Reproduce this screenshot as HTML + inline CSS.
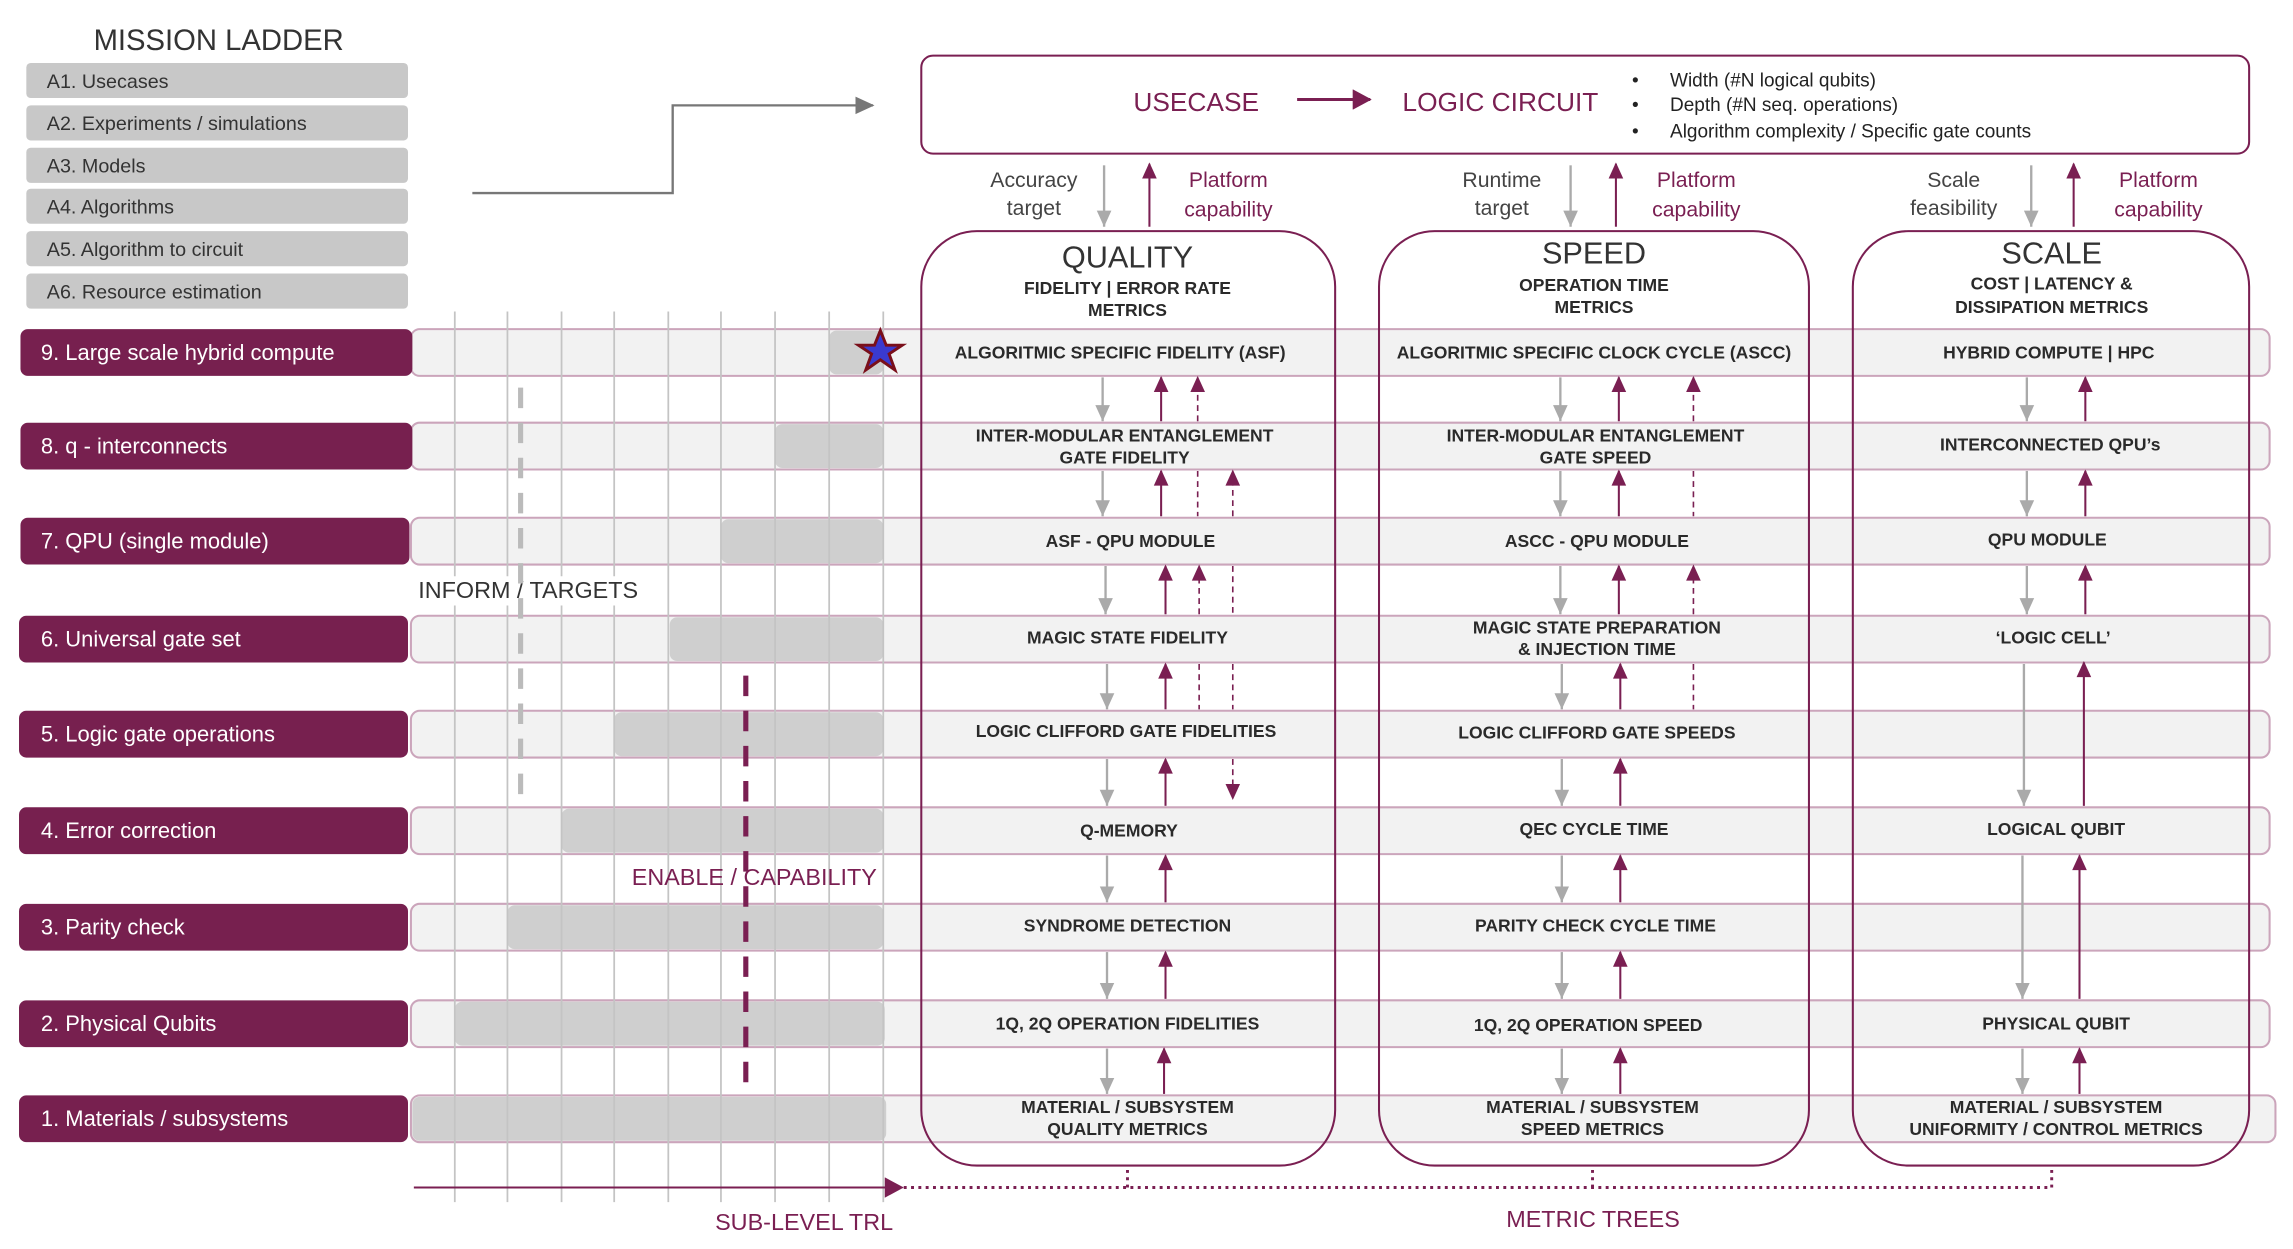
<!DOCTYPE html>
<html><head><meta charset="utf-8"><style>
html,body{margin:0;padding:0;background:#fff}
svg{display:block}
text{font-family:"Liberation Sans",sans-serif}
.rl{fill:#fff;font-size:15px}
.ml{fill:#333;font-size:13.5px}
.bt{fill:#2a2a2a;font-size:12px;font-weight:bold;text-anchor:middle}
.ct{fill:#333;font-size:21px;text-anchor:middle}
.cs{fill:#2a2a2a;font-size:12px;font-weight:bold;text-anchor:middle}
.lab{fill:#444;font-size:14.5px;text-anchor:middle}
.plab{fill:#7a1f52;font-size:14.5px;text-anchor:middle}
.g{stroke:#aaa;stroke-width:1.6;fill:none}
.p{stroke:#7a1f52;stroke-width:1.4;fill:none}
.pd{stroke:#7a1f52;stroke-width:1.1;fill:none;stroke-dasharray:4 3}
</style></head><body>
<svg width="2293" height="1249" viewBox="0 0 1568 854" xmlns="http://www.w3.org/2000/svg">
<defs>
<marker id="ga" markerWidth="12" markerHeight="12" refX="6" refY="11" orient="auto-start-reverse" markerUnits="userSpaceOnUse" viewBox="0 0 12 12"><path d="M1,0 L11,0 L6,11 Z" fill="#aaa" transform="rotate(0)"/></marker>
<marker id="pa" markerWidth="12" markerHeight="12" refX="6" refY="1" orient="0" markerUnits="userSpaceOnUse" viewBox="0 0 12 12"><path d="M6,0 L11,11 L1,11 Z" fill="#7a1f52"/></marker>
<marker id="gd" markerWidth="12" markerHeight="12" refX="6" refY="11" orient="0" markerUnits="userSpaceOnUse" viewBox="0 0 12 12"><path d="M1,0 L11,0 L6,11 Z" fill="#aaa"/></marker>
<marker id="pdn" markerWidth="12" markerHeight="12" refX="6" refY="11" orient="0" markerUnits="userSpaceOnUse" viewBox="0 0 12 12"><path d="M1,0 L11,0 L6,11 Z" fill="#7a1f52"/></marker>
<marker id="gr" markerWidth="14" markerHeight="14" refX="12" refY="7" orient="0" markerUnits="userSpaceOnUse" viewBox="0 0 14 14"><path d="M0,1 L13,7 L0,13 Z" fill="#777"/></marker>
<marker id="pr" markerWidth="14" markerHeight="14" refX="12" refY="7" orient="0" markerUnits="userSpaceOnUse" viewBox="0 0 14 14"><path d="M0,0 L13,7 L0,14 Z" fill="#7a1f52"/></marker>
</defs>

<!-- Mission ladder -->
<text x="64" y="34" style="fill:#333;font-size:20px">MISSION LADDER</text>
<g fill="#c8c8c8">
<rect x="18" y="43" width="261" height="24" rx="3"/>
<rect x="18" y="72" width="261" height="24" rx="3"/>
<rect x="18" y="101" width="261" height="24" rx="3"/>
<rect x="18" y="129" width="261" height="24" rx="3"/>
<rect x="18" y="158" width="261" height="24" rx="3"/>
<rect x="18" y="187" width="261" height="24" rx="3"/>
</g>
<text class="ml" x="32" y="60">A1. Usecases</text>
<text class="ml" x="32" y="89">A2. Experiments / simulations</text>
<text class="ml" x="32" y="118">A3. Models</text>
<text class="ml" x="32" y="146">A4. Algorithms</text>
<text class="ml" x="32" y="175">A5. Algorithm to circuit</text>
<text class="ml" x="32" y="204">A6. Resource estimation</text>
<polyline points="323,132 460,132 460,72 597,72" fill="none" stroke="#777" stroke-width="1.6" marker-end="url(#gr)"/>

<!-- Top box -->
<rect x="630" y="38" width="908" height="67" rx="8" fill="none" stroke="#7a1f52" stroke-width="1.4"/>
<text x="818" y="76" style="fill:#7a1f52;font-size:18px" text-anchor="middle">USECASE</text>
<line x1="887" y1="68" x2="937" y2="68" stroke="#7a1f52" stroke-width="2" marker-end="url(#pr)"/>
<text x="1026" y="76" style="fill:#7a1f52;font-size:18px" text-anchor="middle">LOGIC CIRCUIT</text>
<g style="fill:#222;font-size:13px">
<text x="1116" y="59">•</text><text x="1142" y="59">Width (#N logical qubits)</text>
<text x="1116" y="76">•</text><text x="1142" y="76">Depth (#N seq. operations)</text>
<text x="1116" y="94">•</text><text x="1142" y="94">Algorithm complexity / Specific gate counts</text>
</g>

<!-- targets/capabilities -->
<text class="lab" x="707" y="128">Accuracy</text><text class="lab" x="707" y="147">target</text>
<line class="g" x1="755" y1="113" x2="755" y2="155" marker-end="url(#gd)"/>
<line class="p" x1="786" y1="155" x2="786" y2="112" marker-end="url(#pa)"/>
<text class="plab" x="840" y="128">Platform</text><text class="plab" x="840" y="148">capability</text>
<text class="lab" x="1027" y="128">Runtime</text><text class="lab" x="1027" y="147">target</text>
<line class="g" x1="1074" y1="113" x2="1074" y2="155" marker-end="url(#gd)"/>
<line class="p" x1="1105" y1="155" x2="1105" y2="112" marker-end="url(#pa)"/>
<text class="plab" x="1160" y="128">Platform</text><text class="plab" x="1160" y="148">capability</text>
<text class="lab" x="1336" y="128">Scale</text><text class="lab" x="1336" y="147">feasibility</text>
<line class="g" x1="1389" y1="113" x2="1389" y2="155" marker-end="url(#gd)"/>
<line class="p" x1="1418" y1="155" x2="1418" y2="112" marker-end="url(#pa)"/>
<text class="plab" x="1476" y="128">Platform</text><text class="plab" x="1476" y="148">capability</text>

<!-- bands -->
<g fill="#f2f2f2" stroke="#cba5bb" stroke-width="1.4">
<rect x="281" y="225" width="1271" height="32" rx="6"/>
<rect x="281" y="289" width="1271" height="32" rx="6"/>
<rect x="281" y="354" width="1271" height="32" rx="6"/>
<rect x="281" y="421" width="1271" height="32" rx="6"/>
<rect x="281" y="486" width="1271" height="32" rx="6"/>
<rect x="281" y="552" width="1271" height="32" rx="6"/>
<rect x="281" y="618" width="1271" height="32" rx="6"/>
<rect x="281" y="684" width="1271" height="32" rx="6"/>
<rect x="281" y="749" width="1275" height="32" rx="6"/>
</g>
<g fill="#cfcfcf">
<rect x="567" y="226" width="37" height="30" rx="5"/>
<rect x="530" y="290" width="74" height="30" rx="5"/>
<rect x="493" y="355" width="111" height="30" rx="5"/>
<rect x="458" y="422" width="146" height="30" rx="5"/>
<rect x="420" y="487" width="184" height="30" rx="5"/>
<rect x="384" y="553" width="220" height="30" rx="5"/>
<rect x="347" y="619" width="257" height="30" rx="5"/>
<rect x="311" y="685" width="294" height="30" rx="5"/>
<rect x="282" y="750" width="324" height="30" rx="5"/>
</g>
<g stroke="#c4c4c4" stroke-width="1.2">
<line x1="311" y1="213" x2="311" y2="822"/><line x1="347" y1="213" x2="347" y2="822"/>
<line x1="384" y1="213" x2="384" y2="822"/><line x1="420" y1="213" x2="420" y2="822"/>
<line x1="457" y1="213" x2="457" y2="822"/><line x1="493" y1="213" x2="493" y2="822"/>
<line x1="530" y1="213" x2="530" y2="822"/><line x1="567" y1="213" x2="567" y2="822"/>
<line x1="604" y1="213" x2="604" y2="822"/>
</g>
<rect x="284" y="394" width="152" height="20" fill="#fff"/>
<text x="286" y="409" style="fill:#333;font-size:16px">INFORM / TARGETS</text>
<line x1="356" y1="265" x2="356" y2="547" stroke="#bbb" stroke-width="3.5" stroke-dasharray="14 10"/>
<line x1="510" y1="462" x2="510" y2="744" stroke="#7a1f52" stroke-width="3.5" stroke-dasharray="14 10"/>
<rect x="430" y="590" width="170" height="20" fill="#fff" opacity="0"/>
<text x="432" y="605" style="fill:#7a1f52;font-size:16px">ENABLE / CAPABILITY</text>
<polygon points="602,226 606,236 617,236 608,242 612,253 602,246 592,253 596,242 587,236 598,236" fill="#3a3ad0" stroke="#7a0f1a" stroke-width="2"/>

<!-- purple row labels -->
<g fill="#77204f">
<rect x="14" y="225" width="268" height="32" rx="5"/>
<rect x="14" y="289" width="268" height="32" rx="5"/>
<rect x="14" y="354" width="266" height="32" rx="5"/>
<rect x="13" y="421" width="266" height="32" rx="5"/>
<rect x="13" y="486" width="266" height="32" rx="5"/>
<rect x="13" y="552" width="266" height="32" rx="5"/>
<rect x="13" y="618" width="266" height="32" rx="5"/>
<rect x="13" y="684" width="266" height="32" rx="5"/>
<rect x="13" y="749" width="266" height="32" rx="5"/>
</g>
<text class="rl" x="28" y="246">9. Large scale hybrid compute</text>
<text class="rl" x="28" y="310">8. q - interconnects</text>
<text class="rl" x="28" y="375">7.  QPU (single module)</text>
<text class="rl" x="28" y="442">6.  Universal gate set</text>
<text class="rl" x="28" y="507">5.  Logic gate operations</text>
<text class="rl" x="28" y="573">4.  Error correction</text>
<text class="rl" x="28" y="639">3.  Parity check</text>
<text class="rl" x="28" y="705">2.  Physical Qubits</text>
<text class="rl" x="28" y="770">1.  Materials / subsystems</text>

<!-- columns -->
<g fill="none" stroke="#7a1f52" stroke-width="1.4">
<rect x="630" y="158" width="283" height="639" rx="38"/>
<rect x="943" y="158" width="294" height="639" rx="38"/>
<rect x="1267" y="158" width="271" height="639" rx="38"/>
</g>
<text class="ct" x="771" y="183">QUALITY</text>
<text class="cs" x="771" y="201">FIDELITY | ERROR RATE</text><text class="cs" x="771" y="216">METRICS</text>
<text class="ct" x="1090" y="180">SPEED</text>
<text class="cs" x="1090" y="199">OPERATION TIME</text><text class="cs" x="1090" y="214">METRICS</text>
<text class="ct" x="1403" y="180">SCALE</text>
<text class="cs" x="1403" y="198">COST | LATENCY &amp;</text><text class="cs" x="1403" y="214">DISSIPATION METRICS</text>

<!-- box texts -->
<text class="bt" x="766" y="245">ALGORITMIC SPECIFIC FIDELITY (ASF)</text>
<text class="bt" x="1090" y="245">ALGORITMIC SPECIFIC CLOCK CYCLE (ASCC)</text>
<text class="bt" x="1401" y="245">HYBRID COMPUTE | HPC</text>
<text class="bt" x="769" y="302">INTER-MODULAR ENTANGLEMENT</text><text class="bt" x="769" y="317">GATE FIDELITY</text>
<text class="bt" x="1091" y="302">INTER-MODULAR ENTANGLEMENT</text><text class="bt" x="1091" y="317">GATE SPEED</text>
<text class="bt" x="1402" y="308">INTERCONNECTED QPU’s</text>
<text class="bt" x="773" y="374">ASF - QPU MODULE</text>
<text class="bt" x="1092" y="374">ASCC - QPU MODULE</text>
<text class="bt" x="1400" y="373">QPU MODULE</text>
<text class="bt" x="771" y="440">MAGIC STATE FIDELITY</text>
<text class="bt" x="1092" y="433">MAGIC STATE PREPARATION</text><text class="bt" x="1092" y="448">&amp; INJECTION TIME</text>
<text class="bt" x="1404" y="440">‘LOGIC CELL’</text>
<text class="bt" x="770" y="504">LOGIC CLIFFORD GATE FIDELITIES</text>
<text class="bt" x="1092" y="505">LOGIC CLIFFORD GATE SPEEDS</text>
<text class="bt" x="772" y="572">Q-MEMORY</text>
<text class="bt" x="1090" y="571">QEC CYCLE TIME</text>
<text class="bt" x="1406" y="571">LOGICAL QUBIT</text>
<text class="bt" x="771" y="637">SYNDROME DETECTION</text>
<text class="bt" x="1091" y="637">PARITY CHECK CYCLE TIME</text>
<text class="bt" x="771" y="704">1Q, 2Q OPERATION FIDELITIES</text>
<text class="bt" x="1086" y="705">1Q, 2Q OPERATION SPEED</text>
<text class="bt" x="1406" y="704">PHYSICAL QUBIT</text>
<text class="bt" x="771" y="761">MATERIAL / SUBSYSTEM</text><text class="bt" x="771" y="776">QUALITY METRICS</text>
<text class="bt" x="1089" y="761">MATERIAL / SUBSYSTEM</text><text class="bt" x="1089" y="776">SPEED METRICS</text>
<text class="bt" x="1406" y="761">MATERIAL / SUBSYSTEM</text><text class="bt" x="1406" y="776">UNIFORMITY / CONTROL METRICS</text>

<!-- quality arrows -->
<g>
<line class="g" x1="754" y1="258" x2="754" y2="288" marker-end="url(#gd)"/>
<line class="p" x1="794" y1="288" x2="794" y2="258" marker-end="url(#pa)"/>
<line class="pd" x1="819" y1="288" x2="819" y2="258" marker-end="url(#pa)"/>
<line class="g" x1="754" y1="322" x2="754" y2="353" marker-end="url(#gd)"/>
<line class="p" x1="794" y1="353" x2="794" y2="322" marker-end="url(#pa)"/>
<line class="pd" x1="819" y1="322" x2="819" y2="353"/>
<line class="pd" x1="843" y1="353" x2="843" y2="322" marker-end="url(#pa)"/>
<line class="g" x1="756" y1="387" x2="756" y2="420" marker-end="url(#gd)"/>
<line class="p" x1="797" y1="420" x2="797" y2="387" marker-end="url(#pa)"/>
<line class="pd" x1="820" y1="420" x2="820" y2="387" marker-end="url(#pa)"/>
<line class="pd" x1="843" y1="387" x2="843" y2="420"/>
<line class="g" x1="757" y1="454" x2="757" y2="485" marker-end="url(#gd)"/>
<line class="p" x1="797" y1="485" x2="797" y2="454" marker-end="url(#pa)"/>
<line class="pd" x1="820" y1="454" x2="820" y2="485"/>
<line class="pd" x1="843" y1="454" x2="843" y2="485"/>
<line class="g" x1="757" y1="519" x2="757" y2="551" marker-end="url(#gd)"/>
<line class="p" x1="797" y1="551" x2="797" y2="519" marker-end="url(#pa)"/>
<line class="pd" x1="843" y1="519" x2="843" y2="547" marker-end="url(#pdn)"/>
<line class="g" x1="757" y1="585" x2="757" y2="617" marker-end="url(#gd)"/>
<line class="p" x1="797" y1="617" x2="797" y2="585" marker-end="url(#pa)"/>
<line class="g" x1="757" y1="651" x2="757" y2="683" marker-end="url(#gd)"/>
<line class="p" x1="797" y1="683" x2="797" y2="651" marker-end="url(#pa)"/>
<line class="g" x1="757" y1="717" x2="757" y2="748" marker-end="url(#gd)"/>
<line class="p" x1="796" y1="748" x2="796" y2="717" marker-end="url(#pa)"/>
</g>
<!-- speed arrows -->
<g>
<line class="g" x1="1067" y1="258" x2="1067" y2="288" marker-end="url(#gd)"/>
<line class="p" x1="1107" y1="288" x2="1107" y2="258" marker-end="url(#pa)"/>
<line class="pd" x1="1158" y1="288" x2="1158" y2="258" marker-end="url(#pa)"/>
<line class="g" x1="1067" y1="322" x2="1067" y2="353" marker-end="url(#gd)"/>
<line class="p" x1="1107" y1="353" x2="1107" y2="322" marker-end="url(#pa)"/>
<line class="pd" x1="1158" y1="322" x2="1158" y2="353"/>
<line class="g" x1="1067" y1="387" x2="1067" y2="420" marker-end="url(#gd)"/>
<line class="p" x1="1107" y1="420" x2="1107" y2="387" marker-end="url(#pa)"/>
<line class="pd" x1="1158" y1="420" x2="1158" y2="387" marker-end="url(#pa)"/>
<line class="g" x1="1068" y1="454" x2="1068" y2="485" marker-end="url(#gd)"/>
<line class="p" x1="1108" y1="485" x2="1108" y2="454" marker-end="url(#pa)"/>
<line class="pd" x1="1158" y1="454" x2="1158" y2="485"/>
<line class="g" x1="1068" y1="519" x2="1068" y2="551" marker-end="url(#gd)"/>
<line class="p" x1="1108" y1="551" x2="1108" y2="519" marker-end="url(#pa)"/>
<line class="g" x1="1068" y1="585" x2="1068" y2="617" marker-end="url(#gd)"/>
<line class="p" x1="1108" y1="617" x2="1108" y2="585" marker-end="url(#pa)"/>
<line class="g" x1="1068" y1="651" x2="1068" y2="683" marker-end="url(#gd)"/>
<line class="p" x1="1108" y1="683" x2="1108" y2="651" marker-end="url(#pa)"/>
<line class="g" x1="1068" y1="717" x2="1068" y2="748" marker-end="url(#gd)"/>
<line class="p" x1="1108" y1="748" x2="1108" y2="717" marker-end="url(#pa)"/>
</g>
<!-- scale arrows -->
<g>
<line class="g" x1="1386" y1="258" x2="1386" y2="288" marker-end="url(#gd)"/>
<line class="p" x1="1426" y1="288" x2="1426" y2="258" marker-end="url(#pa)"/>
<line class="g" x1="1386" y1="322" x2="1386" y2="353" marker-end="url(#gd)"/>
<line class="p" x1="1426" y1="353" x2="1426" y2="322" marker-end="url(#pa)"/>
<line class="g" x1="1386" y1="387" x2="1386" y2="420" marker-end="url(#gd)"/>
<line class="p" x1="1426" y1="420" x2="1426" y2="387" marker-end="url(#pa)"/>
<line class="g" x1="1384" y1="454" x2="1384" y2="551" marker-end="url(#gd)"/>
<line class="p" x1="1425" y1="551" x2="1425" y2="453" marker-end="url(#pa)"/>
<line class="g" x1="1383" y1="585" x2="1383" y2="683" marker-end="url(#gd)"/>
<line class="p" x1="1422" y1="683" x2="1422" y2="585" marker-end="url(#pa)"/>
<line class="g" x1="1383" y1="717" x2="1383" y2="748" marker-end="url(#gd)"/>
<line class="p" x1="1422" y1="748" x2="1422" y2="717" marker-end="url(#pa)"/>
</g>

<!-- bottom -->
<line x1="283" y1="812" x2="617" y2="812" stroke="#7a1f52" stroke-width="1.4" marker-end="url(#pr)"/>
<polyline points="618,812 1403,812 1403,797" fill="none" stroke="#7a1f52" stroke-width="2" stroke-dasharray="2 3"/>
<line x1="771" y1="812" x2="771" y2="797" stroke="#7a1f52" stroke-width="2" stroke-dasharray="2 3"/>
<line x1="1089" y1="812" x2="1089" y2="797" stroke="#7a1f52" stroke-width="2" stroke-dasharray="2 3"/>
<text x="489" y="841" style="fill:#7a1f52;font-size:16px">SUB-LEVEL TRL</text>
<text x="1030" y="839" style="fill:#7a1f52;font-size:16px">METRIC TREES</text>
</svg>
</body></html>
